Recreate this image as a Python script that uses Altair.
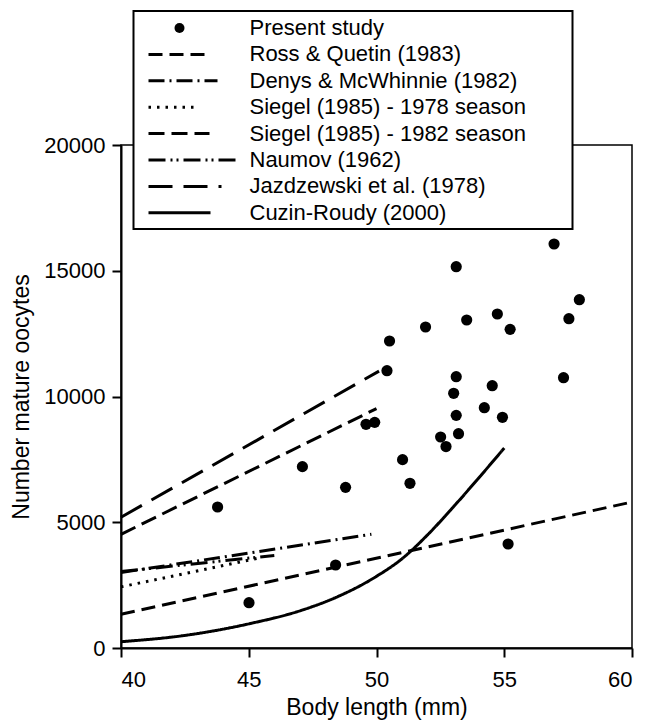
import altair as alt
import pandas as pd

# ---------------- data ----------------
pts_x = [43.78, 45.01, 47.10, 48.79, 48.40, 49.59, 49.93, 50.41, 50.51, 51.02,
         51.31, 51.92, 52.51, 52.72, 53.02, 53.12, 53.12, 53.21, 53.12, 53.53,
         54.22, 54.53, 54.73, 54.93, 55.15, 55.23, 56.95, 57.32, 57.53, 57.94]
pts_y = [5606, 1801, 7210, 6388, 3300, 8894, 8973, 11026, 12207, 7490,
         6548, 12763, 8390, 8010, 10127, 10788, 9251, 8521, 15161, 13042,
         9555, 10430, 13280, 9172, 4135, 12670, 16064, 10748, 13094, 13849]

series_names = ["Ross & Quetin (1983)", "Denys & McWhinnie (1982)",
                "Siegel (1985) - 1978 season", "Siegel (1985) - 1982 season",
                "Naumov (1962)", "Jazdzewski et al. (1978)", "Cuzin-Roudy (2000)"]
ross_x = [40, 60];        ross_y = [1340, 5805]
denys_x = [40, 49.8];     denys_y = [3000, 4520]
siegel78_x = [40, 45.5];  siegel78_y = [2430, 3600]
siegel82_x = [40, 50.0];  siegel82_y = [4520, 9520]
naumov_x = [40, 46.0];    naumov_y = [3040, 3680]
jazd_x = [40, 50.1];      jazd_y = [5200, 11010]
cuzin_x = [40, 42.5, 45, 47.1, 48.5, 50, 51, 52, 53, 54, 55]
cuzin_y = [250, 500, 960, 1510, 2050, 2850, 3550, 4500, 5600, 6760, 7950]

x_ticks = [40, 45, 50, 55, 60]
y_ticks = [0, 5000, 10000, 15000, 20000]
legend_labels = ["Present study"] + series_names

# ---------------- styles ----------------
dash_styles = [[14, 7], [16, 5, 2, 5], [2.5, 6], [16, 7], [17, 5, 2, 4, 2, 5], [24, 11], [1, 0]]
width_styles = [3, 3, 3, 3, 3, 3, 3.6]
legend_line_end = [88.5, 96.5, 78.5, 88.5, 115.5, 100.5, 89.5]  # px, relative to plot left
FONT = "Liberation Sans"

# ---------------- tables ----------------
pts_df = pd.DataFrame({"x": pts_x, "y": pts_y})
line_xs = [ross_x, denys_x, siegel78_x, siegel82_x, naumov_x, jazd_x, cuzin_x]
line_ys = [ross_y, denys_y, siegel78_y, siegel82_y, naumov_y, jazd_y, cuzin_y]
rows = []
for name, xs, ys in zip(series_names, line_xs, line_ys):
    for xv, yv in zip(xs, ys):
        rows.append({"series": name, "x": xv, "y": yv})
lines_df = pd.DataFrame(rows)

leg_df = pd.DataFrame({"label": legend_labels, "row": list(range(len(legend_labels)))})
leg_lines_df = pd.DataFrame({"series": series_names,
                             "row": list(range(1, len(series_names) + 1)),
                             "lx0": [27.5] * len(series_names),
                             "lx1": legend_line_end})

W, H = 511, 503
xsc = alt.Scale(domain=[40, 60], nice=False, zero=False)
ysc = alt.Scale(domain=[0, 20000], nice=False)
dash_scale = alt.Scale(domain=series_names, range=dash_styles)
width_scale = alt.Scale(domain=series_names, range=width_styles)

points = alt.Chart(pts_df).mark_circle(size=125, color="black", opacity=1).encode(
    x=alt.X("x:Q", scale=xsc,
            axis=alt.Axis(values=x_ticks, title="Body length (mm)", format="d")),
    y=alt.Y("y:Q", scale=ysc,
            axis=alt.Axis(values=y_ticks, title="Number mature oocytes", format="d")),
)

lines = alt.Chart(lines_df).mark_line(color="black", interpolate="monotone",
                                      strokeCap="butt").encode(
    x=alt.X("x:Q", scale=xsc),
    y=alt.Y("y:Q", scale=ysc),
    detail="series:N",
    strokeDash=alt.StrokeDash("series:N", scale=dash_scale, legend=None),
    strokeWidth=alt.StrokeWidth("series:N", scale=width_scale, legend=None),
)

box = alt.Chart(alt.Data(values=[{}])).mark_rect(fill="white", stroke="black", strokeWidth=2).encode(
    x=alt.value(12.5), x2=alt.value(451.5), y=alt.value(-134), y2=alt.value(84))

leg_text = alt.Chart(leg_df).transform_calculate(
    py="-117 + datum.row * 26.4"
).mark_text(align="left", baseline="middle", fontSize=22, font=FONT, color="black").encode(
    x=alt.value(128.5),
    y=alt.Y("py:Q", scale=None),
    text="label:N",
)

leg_lines = alt.Chart(leg_lines_df).transform_calculate(
    py="-117 + datum.row * 26.4"
).mark_rule(color="black", strokeCap="butt").encode(
    x=alt.X("lx0:Q", scale=None),
    x2="lx1:Q",
    y=alt.Y("py:Q", scale=None),
    strokeDash=alt.StrokeDash("series:N", scale=dash_scale, legend=None),
    strokeWidth=alt.StrokeWidth("series:N", scale=width_scale, legend=None),
)

leg_dot = alt.Chart(alt.Data(values=[{}])).mark_circle(size=100, color="black", opacity=1).encode(
    x=alt.value(58.5), y=alt.value(-117))

chart = alt.layer(points, lines, box, leg_lines, leg_dot, leg_text).properties(
    width=W, height=H,
    padding={"left": 2, "top": 2, "right": 5, "bottom": 5},
).configure_view(
    stroke="black", strokeWidth=1.5
).configure_axis(
    grid=False, domainColor="black", domainWidth=2, tickColor="black", tickWidth=2,
    tickSize=9, labelFont=FONT, titleFont=FONT, labelFontSize=22, titleFontSize=23,
    labelColor="black", titleColor="black", titleFontWeight="normal",
).configure_axisY(titlePadding=10, labelPadding=7).configure_axisX(titlePadding=6, labelPadding=12)

chart.save("out.html", embed_options={"renderer": "svg", "actions": False})
